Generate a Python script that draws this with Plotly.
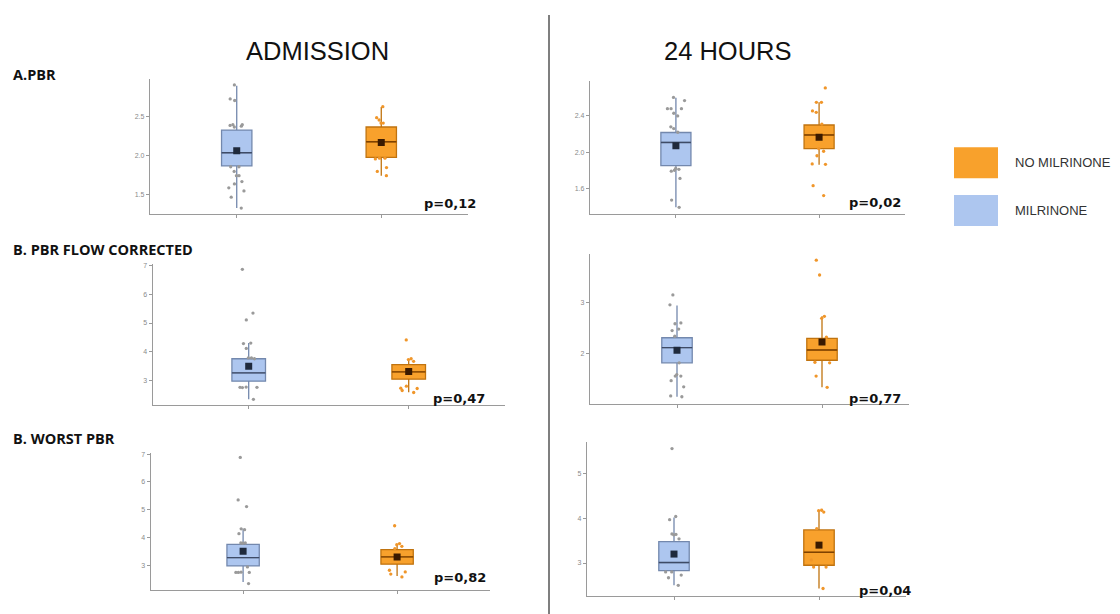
import plotly.graph_objects as go

# The browser page adds an 8px body margin, so the figure is placed at (8, 8)
OFF = 8
W, H = 1120 - OFF, 614 - OFF
GROUPS = ["MILRINONE", "NO MILRINONE"]

# ---- data: box statistics  [q1, median, q3, lower whisker, upper whisker, mean]
adm_pbr_mil_stats = [1.87, 2.04, 2.33, 1.33, 2.90, 2.065]
adm_pbr_nomil_stats = [1.98, 2.18, 2.37, 1.745, 2.625, 2.17]
h24_pbr_mil_stats = [1.85, 2.107, 2.217, 1.39, 2.60, 2.07]
h24_pbr_nomil_stats = [2.04, 2.19, 2.30, 1.86, 2.55, 2.165]
adm_flow_mil_stats = [2.965, 3.255, 3.75, 2.33, 4.30, 3.49]
adm_flow_nomil_stats = [3.035, 3.29, 3.545, 2.58, 3.74, 3.30]
h24_flow_mil_stats = [1.82, 2.117, 2.31, 1.155, 2.94, 2.064]
h24_flow_nomil_stats = [1.87, 2.07, 2.30, 1.34, 2.73, 2.226]
adm_worst_mil_stats = [2.975, 3.275, 3.75, 2.40, 4.31, 3.50]
adm_worst_nomil_stats = [3.036, 3.30, 3.56, 2.61, 3.74, 3.30]
h24_worst_mil_stats = [2.83, 3.01, 3.48, 2.50, 4.02, 3.20]
h24_worst_nomil_stats = [2.95, 3.24, 3.74, 2.43, 4.17, 3.40]

# ---- data: individual (jittered) points
adm_pbr_mil_pts = [2.91, 2.73, 2.71, 2.40, 2.39, 2.37, 2.38, 2.40, 1.86, 1.86, 1.745,
                   1.80, 1.745, 1.67, 1.64, 1.59, 1.55, 1.47, 1.33]
adm_pbr_nomil_pts = [2.63, 2.49, 2.42, 2.42, 2.46, 1.96, 1.97, 1.97, 1.85, 1.80, 1.745]
h24_pbr_mil_pts = [2.605, 2.57, 2.48, 2.48, 2.48, 2.43, 2.40, 2.28, 2.26, 2.22, 1.80,
                   1.79, 1.81, 1.82, 1.71, 1.47, 1.39]
h24_pbr_nomil_pts = [2.71, 2.55, 2.55, 2.44, 2.455, 2.31, 2.04, 2.01, 1.96, 1.87, 1.865,
                     1.63, 1.52]
adm_flow_mil_pts = [6.88, 5.35, 5.11, 4.30, 4.28, 4.11, 3.78, 3.78, 3.75, 2.76, 2.75,
                    2.75, 2.74, 2.33]
adm_flow_nomil_pts = [4.41, 3.66, 3.72, 3.75, 2.79, 2.71, 2.72, 2.57, 2.64]
h24_flow_mil_pts = [3.15, 2.955, 2.585, 2.60, 2.45, 2.48, 2.34, 1.82, 1.59, 1.56, 1.56,
                    1.47, 1.35, 1.17, 1.155]
h24_flow_nomil_pts = [3.83, 3.54, 2.73, 2.69, 2.25, 2.32, 1.82, 1.83, 1.56, 1.34]
adm_worst_mil_pts = [6.88, 5.35, 5.11, 4.31, 4.135, 4.28, 3.80, 3.80, 3.79, 2.94, 2.74,
                     2.75, 2.74, 2.74, 2.34]
adm_worst_nomil_pts = [4.42, 3.78, 3.68, 3.74, 3.60, 2.76, 2.82, 2.68, 2.58]
h24_worst_mil_pts = [5.56, 4.04, 3.97, 3.65, 3.64, 3.63, 3.54, 2.80, 2.80, 2.73, 2.67, 2.50]
h24_worst_nomil_pts = [4.17, 4.14, 4.18, 3.77, 3.07, 2.91, 2.91, 2.43]

# ---- tick labels / p-values / titles
adm_pbr_ticks = [1.5, 2.0, 2.5]
h24_pbr_ticks = [1.6, 2.0, 2.4]
adm_flow_ticks = [3, 4, 5, 6, 7]
h24_flow_ticks = [2, 3]
adm_worst_ticks = [3, 4, 5, 6, 7]
h24_worst_ticks = [3, 4, 5]
p_values = ["p=0,12", "p=0,02", "p=0,47", "p=0,77", "p=0,82", "p=0,04"]
column_titles = ["ADMISSION", "24 HOURS"]
row_titles = ["A.PBR", "B. PBR FLOW CORRECTED", "B. WORST PBR"]
legend_labels = ["NO MILRINONE", "MILRINONE"]

panels = [
    (adm_pbr_mil_stats, adm_pbr_nomil_stats, adm_pbr_mil_pts, adm_pbr_nomil_pts, adm_pbr_ticks, ".1f"),
    (h24_pbr_mil_stats, h24_pbr_nomil_stats, h24_pbr_mil_pts, h24_pbr_nomil_pts, h24_pbr_ticks, ".1f"),
    (adm_flow_mil_stats, adm_flow_nomil_stats, adm_flow_mil_pts, adm_flow_nomil_pts, adm_flow_ticks, "d"),
    (h24_flow_mil_stats, h24_flow_nomil_stats, h24_flow_mil_pts, h24_flow_nomil_pts, h24_flow_ticks, "d"),
    (adm_worst_mil_stats, adm_worst_nomil_stats, adm_worst_mil_pts, adm_worst_nomil_pts, adm_worst_ticks, "d"),
    (h24_worst_mil_stats, h24_worst_nomil_stats, h24_worst_mil_pts, h24_worst_nomil_pts, h24_worst_ticks, "d"),
]

# ---- layout (pixel geometry of each panel in the page, and its y range)
geom = [
    dict(x=(150, 468), y=(76, 212), yr=(1.254, 2.99), p=(478, 201)),
    dict(x=(590, 905), y=(78, 211.7), yr=(1.32, 2.79), p=(903, 200)),
    dict(x=(152.7, 504.7), y=(262.7, 404.3), yr=(2.12, 7.05), p=(487, 397)),
    dict(x=(590, 909), y=(252, 403.3), yr=(1.006, 3.955), p=(903, 397)),
    dict(x=(150.7, 489.5), y=(452.7, 589.7), yr=(2.115, 7.02), p=(488, 577)),
    dict(x=(587, 906), y=(441, 596), yr=(2.26, 5.71), p=(913, 590)),
]

def px_x(v):
    return (v - OFF) / W

def px_y(v):
    return 1 - (v - OFF) / H

BLUE_FILL = "#adc6ef"
BLUE_LINE = "#7388ad"
BLUE_MED = "#3e4b66"
BLUE_PT = "#9a9a9a"
BLUE_MEAN = "#1f2a3c"
OR_FILL = "#f8a12c"
OR_LINE = "#c0730f"
OR_MED = "#7f4200"
OR_PT = "#f0962a"
OR_MEAN = "#3a1a00"

AXIS_COL = "#9a9a9a"
fig = go.Figure()
layout = dict(
    width=W, height=H, margin=dict(l=0, r=0, t=0, b=0),
    paper_bgcolor="white", plot_bgcolor="white",
    showlegend=False, boxmode="overlay", boxgap=0.7,
    font=dict(family="Liberation Sans", color="#333"),
)
annotations = []
shapes = []

for i, (ms, ns, mp, npts, ticks, fmt) in enumerate(panels):
    k = i + 1
    xa = "x" if k == 1 else f"x{k}"
    ya = "y" if k == 1 else f"y{k}"
    g = geom[i]
    for grp, st, pts, fill, lc, mdc, pc, mc in [
        (GROUPS[0], ms, mp, BLUE_FILL, BLUE_LINE, BLUE_MED, BLUE_PT, BLUE_MEAN),
        (GROUPS[1], ns, npts, OR_FILL, OR_LINE, OR_MED, OR_PT, OR_MEAN),
    ]:
        # box, whiskers
        fig.add_trace(go.Box(
            x=[grp], q1=[st[0]], median=[st[1]], q3=[st[2]],
            lowerfence=[st[3]], upperfence=[st[4]],
            boxpoints=False, fillcolor=fill, line=dict(color=lc, width=1.3),
            whiskerwidth=0, xaxis=xa, yaxis=ya, hoverinfo="skip",
        ))
        # darker median line
        fig.add_trace(go.Box(
            x=[grp], q1=[st[1]], median=[st[1]], q3=[st[1]],
            lowerfence=[st[1]], upperfence=[st[1]],
            boxpoints=False, fillcolor="rgba(0,0,0,0)", line=dict(color=mdc, width=1.4),
            whiskerwidth=0, xaxis=xa, yaxis=ya, hoverinfo="skip",
        ))
        # jittered points
        fig.add_trace(go.Box(
            x=[grp] * len(pts), y=pts, boxpoints="all", jitter=0.65, pointpos=0,
            fillcolor="rgba(0,0,0,0)", line=dict(color="rgba(0,0,0,0)", width=0),
            marker=dict(color=pc, size=3.3, line=dict(width=0)),
            xaxis=xa, yaxis=ya, hoverinfo="skip",
        ))
        # mean
        fig.add_trace(go.Scatter(
            x=[grp], y=[st[5]], mode="markers",
            marker=dict(symbol="square", size=7, color=mc),
            xaxis=xa, yaxis=ya, hoverinfo="skip",
        ))
    xkey = "xaxis" if k == 1 else f"xaxis{k}"
    ykey = "yaxis" if k == 1 else f"yaxis{k}"
    layout[xkey] = dict(
        domain=[px_x(g["x"][0]), px_x(g["x"][1])], anchor=ya,
        type="category", categoryorder="array", categoryarray=GROUPS,
        range=[-0.6, 1.6], showticklabels=False, ticks="outside", ticklen=3,
        tickcolor=AXIS_COL, showline=True, linecolor=AXIS_COL, linewidth=1.3,
        showgrid=False, zeroline=False,
    )
    layout[ykey] = dict(
        domain=[px_y(g["y"][1]), px_y(g["y"][0])], anchor=xa,
        range=list(g["yr"]), tickvals=ticks, tickformat=fmt,
        ticks="outside", ticklen=3, tickcolor=AXIS_COL,
        tickfont=dict(size=7, color="#8a8a8a", family="Liberation Sans"),
        showline=True, linecolor=AXIS_COL, linewidth=1.3,
        showgrid=False, zeroline=False,
    )
    annotations.append(dict(
        text=f"<b>{p_values[i]}</b>", xref="paper", yref="paper",
        x=px_x(g["p"][0]), y=px_y(g["p"][1]), xanchor="right", yanchor="middle",
        showarrow=False, font=dict(family="DejaVu Sans", size=13, color="#111"),
    ))

# column titles
for txt, cx in zip(column_titles, [317, 728]):
    annotations.append(dict(
        text=txt, xref="paper", yref="paper", x=px_x(cx), y=px_y(48),
        xanchor="center", yanchor="middle", showarrow=False,
        font=dict(family="Liberation Sans", size=25.5, color="#111"),
    ))
# row titles
for txt, cy in zip(row_titles, [72, 248, 438]):
    annotations.append(dict(
        text=f"<b>{txt}</b>", xref="paper", yref="paper", x=px_x(11), y=px_y(cy),
        xanchor="left", yanchor="middle", showarrow=False,
        font=dict(family="Open Sans", size=14.5, color="#111"),
    ))
# legend
for txt, fill, (y0, y1) in zip(legend_labels, [OR_FILL, BLUE_FILL], [(145, 176), (193, 224)]):
    shapes.append(dict(type="rect", xref="paper", yref="paper",
                       x0=px_x(954), x1=px_x(998), y0=px_y(y1), y1=px_y(y0),
                       fillcolor=fill, line=dict(width=0)))
    annotations.append(dict(
        text=txt, xref="paper", yref="paper", x=px_x(1013), y=px_y((y0 + y1) / 2),
        xanchor="left", yanchor="middle", showarrow=False,
        font=dict(family="Liberation Sans", size=13, color="#333"),
    ))
# divider
shapes.append(dict(type="line", xref="paper", yref="paper",
                   x0=px_x(549), x1=px_x(549), y0=px_y(614), y1=px_y(12),
                   line=dict(color="#555", width=1.5)))

layout["annotations"] = annotations
layout["shapes"] = shapes
fig.update_layout(**layout)
fig.write_html("out.html")
